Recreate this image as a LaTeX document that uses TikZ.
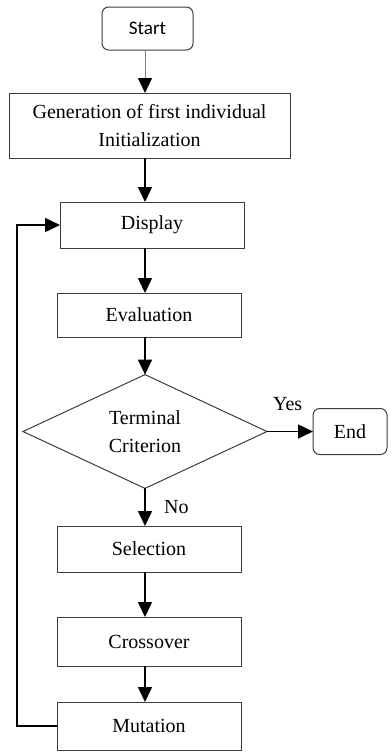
\documentclass[tikz,border=0pt]{standalone}
\usepackage{fontspec}
\setmainfont{Liberation Serif}
\newfontfamily\startfont{Carlito}
\usepackage{tikz}
\usetikzlibrary{arrows.meta,positioning,shapes.geometric,calc}
\definecolor{gaborder}{RGB}{60,60,60}

\begin{document}
\begin{tikzpicture}[x=0.6pt, y=-0.6pt,
  box/.style={draw=gaborder, line width=0.6pt, inner sep=0pt, outer sep=0pt,
              minimum width=110.4pt, minimum height=27.6pt, align=center,
              font=\fontsize{12}{16.5}\selectfont},
  term/.style={box, rounded corners=4pt},
  dec/.style={box, diamond, minimum width=146.4pt, minimum height=64.2pt},
  arr/.style={-{Triangle[length=9pt, width=8.4pt, color=black]}, line width=0.9pt},
  lbl/.style={font=\fontsize{12}{14}\selectfont, inner sep=0pt}]

\useasboundingbox (0,0) rectangle (390,753);
\coordinate (mid) at (145,0);

\node[term, minimum width=54.6pt, minimum height=25.8pt, font=\startfont\fontsize{11.5}{14}\selectfont] (Start) at (147.5,28.5) {Start};
\node[box, minimum width=168.6pt, minimum height=39pt] (Gen) at (149.5,125.5) {Generation of first individual\\Initialization};
\node[box] (Disp) at (152,225) {Display};
\node[box, minimum height=26.4pt] (Eval) at (149,315) {Evaluation};
\node[dec] (Term) at (145,431.5) {Terminal\\Criterion};
\node[term, minimum width=44.4pt] (End) at (350,431.5) {End};
\node[box] (Sel) at (149,549) {Selection};
\node[box, minimum height=29.4pt] (Cross) at (149,641.5) {Crossover};
\node[box, minimum height=28.8pt] (Mut) at (149,726) {Mutation};
\coordinate (back) at (17,0);

\draw[arr, line width=0.5pt, draw=gray] (Start.south -| mid) -- (Gen.north -| mid);
\draw[arr] (Gen.south -| mid) -- (Disp.north -| mid);
\draw[arr] (Disp.south -| mid) -- (Eval.north -| mid);
\draw[arr] (Eval.south -| mid) -- (Term.north);
\draw[arr] (Term.east) -- (End.west) node[lbl, pos=0.45, above=12pt] {Yes};
\draw[arr] (Term.south) -- (Sel.north -| mid) node[lbl, midway, right=11pt] {No};
\draw[arr] (Sel.south -| mid) -- (Cross.north -| mid);
\draw[arr] (Cross.south -| mid) -- (Mut.north -| mid);
\draw[arr] (Mut.west) -- (Mut.west -| back) -- (Disp.west -| back) -- (Disp.west);
\end{tikzpicture}
\end{document}
